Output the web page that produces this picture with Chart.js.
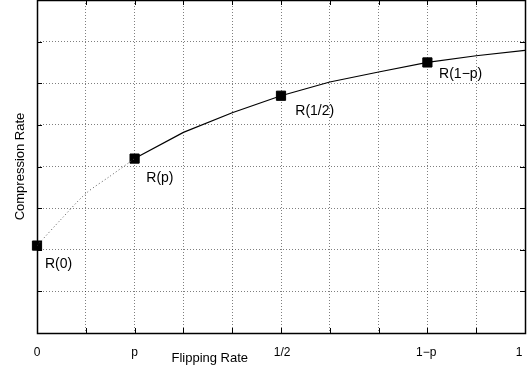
<!DOCTYPE html>
<html>
<head>
<meta charset="utf-8">
<script src="https://cdn.jsdelivr.net/npm/chart.js@4.4.0/dist/chart.umd.min.js"></script>
<style>
  html, body { margin: 0; padding: 0; background: #fff; }
  #wrap { width: 527px; height: 370px; position: relative; }
</style>
</head>
<body>
<div id="wrap"><canvas id="c" width="527" height="370"></canvas></div>
<script>
// ---- data ----
const dottedX = [0, 0.05, 0.1, 0.15, 0.2];
const dottedY = [2.1, 2.74, 3.35, 3.77, 4.19];

const solidX = [0.2, 0.3, 0.4, 0.5, 0.6, 0.7, 0.8, 0.9, 1.0];
const solidY = [4.19, 4.82, 5.29, 5.70, 6.03, 6.27, 6.50, 6.66, 6.79];

const markerX = [0, 0.2, 0.5, 0.8];
const markerY = [2.1, 4.19, 5.70, 6.50];
const markerLabels = ['R(0)', 'R(p)', 'R(1/2)', 'R(1\u2212p)'];

const xTickValues = [0, 0.2, 0.5, 0.8, 1];
const xTickLabels = ['0', 'p', '\u20091/2', '1\u2212p\u2009', '1\u2003'];

const xTitle = 'Flipping Rate';
const yTitle = 'Compression Rate';

// ---- helpers ----
const toPts = (xs, ys) => xs.map((x, i) => ({ x: x, y: ys[i] }));
const FONT = '"Liberation Sans", Arial, Helvetica, sans-serif';

// pixel offsets of the annotation text (left edge, vertical centre) from each marker
const labelOffsets = [[8, 18.5], [11.7, 19.7], [14.3, 15], [11.7, 11.3]];

const framePlugin = {
  id: 'frame',
  beforeDatasetsDraw(chart) {
    const { ctx, chartArea: a, scales } = chart;
    ctx.save();
    ctx.strokeStyle = '#000';
    ctx.lineWidth = 1;
    ctx.beginPath();
    // inward tick marks
    const tl = 5;
    scales.x.ticks.forEach(t => {
      const px = Math.round(scales.x.getPixelForValue(t.value)) + 0.5;
      ctx.moveTo(px, a.bottom); ctx.lineTo(px, a.bottom - tl);
      ctx.moveTo(px, a.top); ctx.lineTo(px, a.top + tl);
    });
    scales.y.ticks.forEach(t => {
      const py = Math.round(scales.y.getPixelForValue(t.value)) + 0.5;
      ctx.moveTo(a.left, py); ctx.lineTo(a.left + tl, py);
      ctx.moveTo(a.right, py); ctx.lineTo(a.right - tl, py);
    });
    ctx.stroke();
    ctx.lineWidth = 1.5;
    ctx.strokeRect(Math.round(a.left) + 0.5, Math.round(a.top) + 0.5,
                   Math.round(a.right - a.left), Math.round(a.bottom - a.top));
    ctx.restore();
  },
  afterDraw(chart) {
    const { ctx, chartArea: a, scales } = chart;
    ctx.save();
    ctx.fillStyle = '#000';
    ctx.font = '14px ' + FONT;
    ctx.textAlign = 'left';
    ctx.textBaseline = 'middle';
    markerLabels.forEach((lab, i) => {
      const px = scales.x.getPixelForValue(markerX[i]);
      const py = scales.y.getPixelForValue(markerY[i]);
      ctx.fillText(lab, px + labelOffsets[i][0], py + labelOffsets[i][1]);
    });
    // x axis title (placed left of centre as in the reference)
    ctx.font = '13px ' + FONT;
    ctx.textAlign = 'center';
    ctx.textBaseline = 'alphabetic';
    ctx.fillText(xTitle, scales.x.getPixelForValue(0.354), a.bottom + 29);
    ctx.restore();
  }
};

new Chart(document.getElementById('c'), {
  type: 'scatter',
  data: {
    datasets: [
      {
        data: toPts(dottedX, dottedY),
        showLine: true,
        borderColor: '#555',
        borderWidth: 1,
        borderDash: [1, 2.5],
        pointRadius: 0,
        tension: 0.3
      },
      {
        data: toPts(solidX, solidY),
        showLine: true,
        borderColor: '#000',
        borderWidth: 1.2,
        pointRadius: 0,
        tension: 0
      },
      {
        data: toPts(markerX, markerY),
        showLine: false,
        pointStyle: 'rect',
        pointRadius: 6.5,
        pointBackgroundColor: '#000',
        pointBorderColor: '#000',
        pointBorderWidth: 1,
        clip: false
      }
    ]
  },
  options: {
    responsive: false,
    animation: false,
    devicePixelRatio: 1,
    layout: { autoPadding: false, padding: { top: 0, right: 2, left: 0, bottom: 0 } },
    plugins: { legend: { display: false }, tooltip: { enabled: false } },
    scales: {
      x: {
        type: 'linear',
        min: 0, max: 1,
        afterFit: s => { s.height = 37; s.paddingLeft = 0; s.paddingRight = 0; },
        ticks: {
          stepSize: 0.1,
          autoSkip: false,
          maxRotation: 0,
          padding: 12,
          color: '#000',
          font: { family: FONT, size: 12 },
          callback: v => {
            const i = xTickValues.findIndex(t => Math.abs(t - v) < 1e-6);
            return i >= 0 ? xTickLabels[i] : '';
          }
        },
        grid: { color: 'rgba(0,0,0,0.5)', lineWidth: 1, drawTicks: false },
        border: { display: false, dash: [1, 2] }
      },
      y: {
        type: 'linear',
        min: 0, max: 8,
        afterFit: s => { s.width = 37; s.paddingTop = 0; s.paddingBottom = 0; },
        ticks: { stepSize: 1, display: false },
        grid: { color: 'rgba(0,0,0,0.5)', lineWidth: 1, drawTicks: false },
        border: { display: false, dash: [1, 2] },
        title: {
          display: true,
          text: yTitle,
          color: '#000',
          font: { family: FONT, size: 13 },
          padding: { top: 13, bottom: 0 }
        }
      }
    }
  },
  plugins: [framePlugin]
});
</script>
</body>
</html>
